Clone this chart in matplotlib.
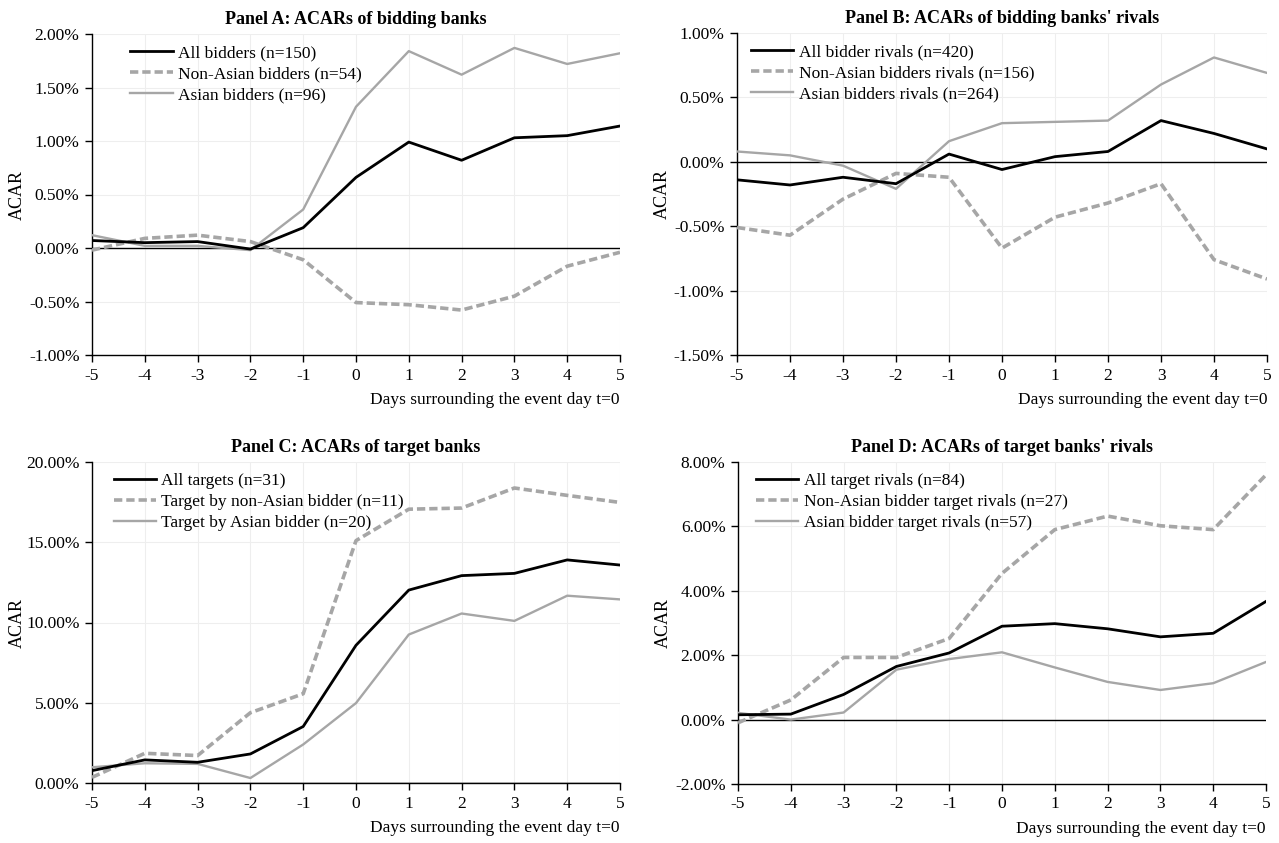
import matplotlib
matplotlib.use("Agg")
import matplotlib.pyplot as plt
from matplotlib.ticker import FuncFormatter

plt.rcParams['font.family'] = ['Liberation Serif', 'DejaVu Serif']

days = [-5, -4, -3, -2, -1, 0, 1, 2, 3, 4, 5]

# Panel A (values in %)
a_all = [0.07, 0.05, 0.06, -0.01, 0.19, 0.66, 0.99, 0.82, 1.03, 1.05, 1.14]
a_non = [-0.02, 0.09, 0.12, 0.06, -0.11, -0.51, -0.53, -0.58, -0.45, -0.17, -0.04]
a_asia = [0.12, 0.02, 0.02, -0.02, 0.36, 1.32, 1.84, 1.62, 1.87, 1.72, 1.82]

# Panel B
b_all = [-0.14, -0.18, -0.12, -0.17, 0.06, -0.06, 0.04, 0.08, 0.32, 0.22, 0.10]
b_non = [-0.51, -0.57, -0.29, -0.09, -0.12, -0.67, -0.43, -0.32, -0.17, -0.76, -0.91]
b_asia = [0.08, 0.05, -0.03, -0.21, 0.16, 0.30, 0.31, 0.32, 0.60, 0.81, 0.69]

# Panel C
c_all = [0.77, 1.44, 1.29, 1.81, 3.52, 8.58, 12.02, 12.92, 13.06, 13.90, 13.58]
c_non = [0.35, 1.85, 1.71, 4.38, 5.56, 15.10, 17.06, 17.13, 18.38, 17.92, 17.48]
c_asia = [0.98, 1.23, 1.19, 0.31, 2.40, 4.98, 9.25, 10.56, 10.10, 11.67, 11.44]

# Panel D
d_all = [0.15, 0.17, 0.78, 1.65, 2.07, 2.90, 2.98, 2.82, 2.57, 2.68, 3.67]
d_non = [-0.10, 0.61, 1.93, 1.93, 2.52, 4.54, 5.90, 6.32, 6.02, 5.90, 7.60]
d_asia = [0.21, 0.00, 0.22, 1.55, 1.88, 2.09, 1.62, 1.17, 0.92, 1.13, 1.79]

titles = ["Panel A: ACARs of bidding banks",
          "Panel B: ACARs of bidding banks' rivals",
          "Panel C: ACARs of target banks",
          "Panel D: ACARs of target banks' rivals"]
labels = [["All bidders (n=150)", "Non-Asian bidders (n=54)", "Asian bidders (n=96)"],
          ["All bidder rivals (n=420)", "Non-Asian bidders rivals (n=156)", "Asian bidders rivals (n=264)"],
          ["All targets (n=31)", "Target by non-Asian bidder (n=11)", "Target by Asian bidder (n=20)"],
          ["All target rivals (n=84)", "Non-Asian bidder target rivals (n=27)", "Asian bidder target rivals (n=57)"]]
series = [(a_all, a_non, a_asia), (b_all, b_non, b_asia), (c_all, c_non, c_asia), (d_all, d_non, d_asia)]
yticks = [[-1.0, -0.5, 0.0, 0.5, 1.0, 1.5, 2.0],
          [-1.5, -1.0, -0.5, 0.0, 0.5, 1.0],
          [0.0, 5.0, 10.0, 15.0, 20.0],
          [-2.0, 0.0, 2.0, 4.0, 6.0, 8.0]]

W, H = 1279, 843
fig = plt.figure(figsize=(W / 100, H / 100), dpi=100)
boxes = [(92, 34, 620, 355), (737, 33, 1267, 355), (92, 462, 620, 783), (738, 462, 1266, 784)]
legend_x = [0.072, 0.026, 0.041, 0.034]

fmt = FuncFormatter(lambda v, p: f"{v:.2f}%")

for i in range(4):
    x0, y0, x1, y1 = boxes[i]
    ax = fig.add_axes([x0 / W, 1 - y1 / H, (x1 - x0) / W, (y1 - y0) / H])
    s_all, s_non, s_asia = series[i]
    ax.plot(days, s_all, color='black', lw=2.0, label=labels[i][0], zorder=4)
    ax.plot(days, s_non, color='#a6a6a6', lw=2.6, ls=(0, (2.3, 1.1)), label=labels[i][1], zorder=3)
    ax.plot(days, s_asia, color='#a6a6a6', lw=1.7, label=labels[i][2], zorder=3)
    ax.axhline(0, color='black', lw=1.0, zorder=2)
    yt = yticks[i]
    ax.set_ylim(yt[0], yt[-1])
    ax.set_yticks(yt)
    ax.yaxis.set_major_formatter(fmt)
    ax.set_xlim(-5, 5)
    ax.set_xticks(days)
    ax.set_xticklabels([str(d) for d in days])
    ax.grid(True, color='#eeeeee', lw=0.8, zorder=0)
    ax.set_axisbelow(True)
    for sp in ['top', 'right']:
        ax.spines[sp].set_visible(False)
    for sp in ['left', 'bottom']:
        ax.spines[sp].set_linewidth(1.0)
    ax.tick_params(axis='both', direction='out', length=5, width=1.0, labelsize=12.5, pad=4)
    ax.set_ylabel("ACAR", fontsize=13)
    ax.yaxis.set_label_coords(-0.125, 0.5)
    ax.set_xlabel("Days surrounding the event day t=0", fontsize=12.5, loc='right', labelpad=6)
    ax.set_title(titles[i], fontsize=13, fontweight='bold', pad=7)
    ax.legend(loc='upper left', frameon=False, fontsize=12.5, handlelength=2.45,
              handletextpad=0.3, labelspacing=0.28, borderaxespad=0.0, borderpad=0.0,
              bbox_to_anchor=(legend_x[i], 0.965))

fig.savefig("out.png", dpi=100)
